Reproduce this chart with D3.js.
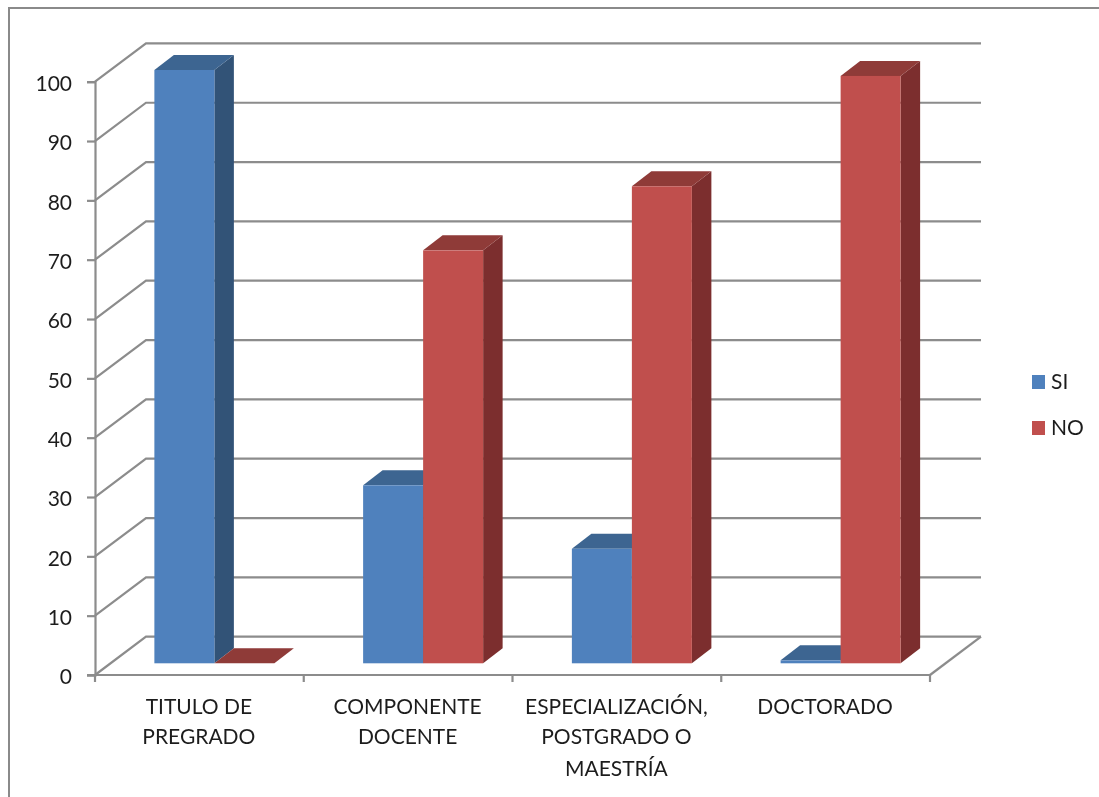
<!DOCTYPE html>
<html><head><meta charset="utf-8">
<script src="https://cdn.jsdelivr.net/npm/d3@7"></script>
<style>html,body{margin:0;padding:0;background:#fff;overflow:hidden}svg{display:block}text{font-family:Lato,"Open Sans",sans-serif;fill:#1f1f1f}</style>
</head><body><svg id="c" width="1099" height="797"></svg>
<script>
const categories=["TITULO DE PREGRADO","COMPONENTE DOCENTE","ESPECIALIZACIÓN, POSTGRADO O MAESTRÍA","DOCTORADO"];
const categoryLines=[["TITULO DE","PREGRADO"],["COMPONENTE","DOCENTE"],["ESPECIALIZACIÓN,","POSTGRADO O","MAESTRÍA"],["DOCTORADO"]];
const seriesNames=["SI","NO"];
const siValues=[100,30,19.3,0.5];
const noValues=[0,69.6,80.4,99];
const yTicks=[0,10,20,30,40,50,60,70,80,90,100];
const faceColors=["#4F81BD","#C0504D"];
const topColors=["#3D6591","#8F3A38"];
const sideColors=["#325277","#7C2F2D"];

const W=1099,H=797,gray="#8C8C8C";
const svg=d3.select("#c");
const defs=svg.append("defs");
defs.append("filter").attr("id","soft").append("feGaussianBlur").attr("stdDeviation",0.55);
const root=svg.append("g").attr("filter","url(#soft)");

const L=95,R=930,B=675,T=81.7;
const wallDx=51,wallDy=-38.3;     // offset from front plane to back wall
const barDx=15,barDy=-11.7;       // offset of bar front from front plane
const depthDx=19.5,depthDy=-15;   // bar depth
const y=d3.scaleLinear().domain([0,100]).range([B,T]);
const x=d3.scaleBand().domain(categories).range([L,R]);
const inner=d3.scaleBand().domain(seriesNames).range([0,120]);
const innerPad=(x.bandwidth()-120)/2;

root.append("rect").attr("x",9).attr("y",8).attr("width",W+20).attr("height",H+20)
  .attr("fill","#fff").attr("stroke","#8a8a8a").attr("stroke-width",2);

// walls: gridlines
const line=d3.line();
root.append("g").selectAll("path").data(yTicks).join("path")
  .attr("fill","none").attr("stroke",gray).attr("stroke-width",2.2)
  .attr("d",t=>line([[L,y(t)],[L+wallDx,y(t)+wallDy],[R+wallDx,y(t)+wallDy]]));
// floor right edge
root.append("path").attr("fill","none").attr("stroke",gray).attr("stroke-width",2.2)
  .attr("d",line([[R,B],[R+wallDx,B+wallDy]]));

// axes
const yAxis=d3.axisLeft(y).tickValues(yTicks).tickSize(8).tickPadding(15).tickFormat(d3.format("d"));
const ya=root.append("g").attr("transform",`translate(${L},0)`).call(yAxis);
ya.selectAll("path,line").attr("stroke",gray).attr("stroke-width",2.2);
ya.selectAll("text").attr("font-size",21).attr("dy","0.42em").style("font-family","Lato,'Open Sans',sans-serif").attr("fill","#1f1f1f");

const edges=categories.map(c=>x(c)).concat([R]);
root.append("line").attr("x1",L-8).attr("x2",R).attr("y1",B).attr("y2",B).attr("stroke",gray).attr("stroke-width",2.2);
root.append("g").selectAll("line").data(edges).join("line")
  .attr("x1",d=>d).attr("x2",d=>d).attr("y1",B).attr("y2",B+7).attr("stroke",gray).attr("stroke-width",2.2);

// bars
const rows=categories.flatMap((c,i)=>[
  {c,s:0,v:siValues[i]},{c,s:1,v:noValues[i]}]);
const bars=root.append("g").selectAll("g").data(rows).join("g");
function geo(d){
  const x0=x(d.c)+innerPad+barDx+inner(seriesNames[d.s]),x1=x0+inner.bandwidth();
  const y0=y(0)+barDy,yt=y(d.v)+barDy;
  return {x0,x1,y0,yt};
}
bars.append("path").attr("fill",d=>sideColors[d.s]).attr("d",d=>{const g=geo(d);
  return line([[g.x1,g.y0],[g.x1+depthDx,g.y0+depthDy],[g.x1+depthDx,g.yt+depthDy],[g.x1,g.yt]])+"Z";});
bars.append("path").attr("fill",d=>topColors[d.s]).attr("d",d=>{const g=geo(d);
  return line([[g.x0,g.yt],[g.x0+depthDx,g.yt+depthDy],[g.x1+depthDx,g.yt+depthDy],[g.x1,g.yt]])+"Z";});
bars.append("rect").attr("fill",d=>faceColors[d.s])
  .attr("x",d=>geo(d).x0).attr("width",inner.bandwidth())
  .attr("y",d=>geo(d).yt).attr("height",d=>geo(d).y0-geo(d).yt);

// category labels
const lineYs=[714,744,776];
root.append("g").selectAll("text").data(categories).join("text")
  .attr("text-anchor","middle").attr("font-size",21)
  .each(function(c,i){
    d3.select(this).selectAll("tspan").data(categoryLines[i]).join("tspan")
      .attr("x",x(c)+x.bandwidth()/2-0.5).attr("y",(d,j)=>lineYs[j]).text(d=>d);
  });

// legend
const leg=d3.scaleOrdinal().domain(seriesNames).range([382,428]);
const lg=root.append("g").selectAll("g").data(seriesNames).join("g");
lg.append("rect").attr("x",1032).attr("y",d=>leg(d)-7).attr("width",13).attr("height",14)
  .attr("fill",(d,i)=>faceColors[i]);
lg.append("text").attr("x",1051).attr("y",d=>leg(d)+7).attr("font-size",21).text(d=>d);
</script></body></html>
